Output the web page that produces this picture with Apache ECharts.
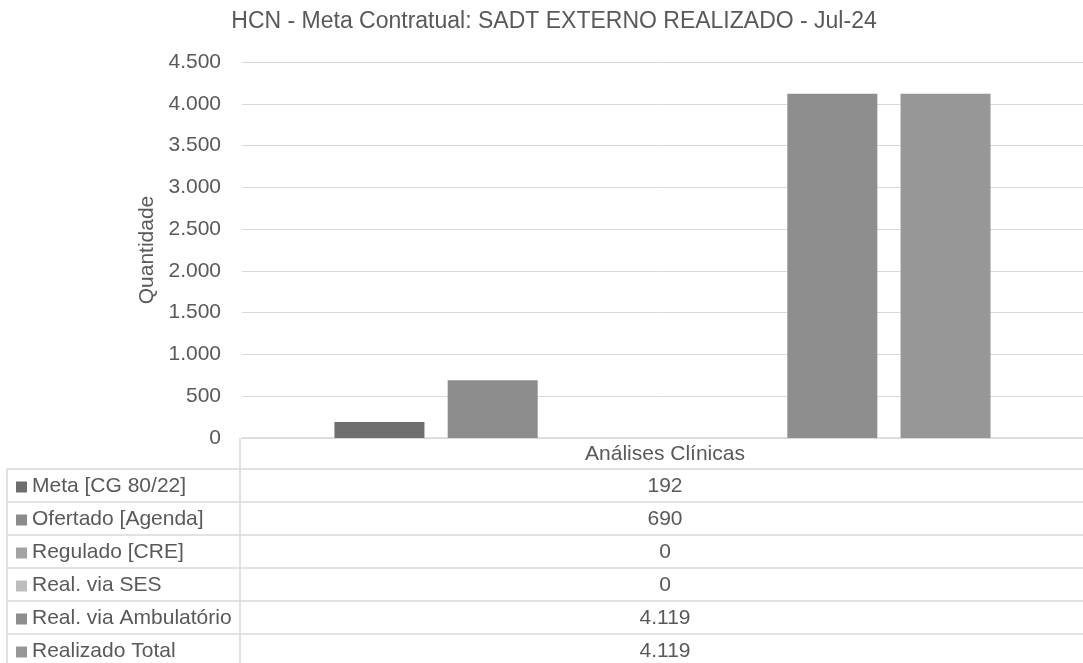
<!DOCTYPE html>
<html>
<head>
<meta charset="utf-8">
<script src="https://cdn.jsdelivr.net/npm/echarts@6/dist/echarts.min.js"></script>
<style>
  html, body { margin: 0; padding: 0; background: #fff; }
  #chart { width: 1083px; height: 663px; }
</style>
</head>
<body>
<div id="chart"></div>
<script>
// data
const categories = ['Análises Clínicas'];
const meta = [192];
const ofertado = [690];
const regulado = [0];
const realSes = [0];
const realAmbulatorio = [4119];
const realizadoTotal = [4119];
const seriesNames = ['Meta [CG 80/22]', 'Ofertado [Agenda]', 'Regulado [CRE]', 'Real. via SES', 'Real. via Ambulatório', 'Realizado Total'];
const seriesData = [meta, ofertado, regulado, realSes, realAmbulatorio, realizadoTotal];
const seriesColors = ['#6e6e6e', '#8c8c8c', '#a3a3a3', '#bdbdbd', '#8e8e8e', '#979797'];

const FONT = "'Liberation Sans', Arial, sans-serif";
const TXT = '#595959';
const LINE = '#d9d9d9';
const FS = 21;

// 4119 -> 4.119
const fmt = v => String(v).replace(/\B(?=(\d{3})+(?!\d))/g, '.');

// table geometry
const tblLeft = 7, colX = 240, tblRight = 1083, valX = 665;
const headTop = 438, rowTop = 469, rowH = 33;

const chart = echarts.init(document.getElementById('chart'));

const graphics = [];
graphics.push({ type: 'line', shape: { x1: colX, y1: headTop, x2: colX, y2: 663 }, style: { stroke: LINE, lineWidth: 1.5 } });
graphics.push({ type: 'line', shape: { x1: tblLeft, y1: rowTop, x2: tblLeft, y2: 663 }, style: { stroke: LINE, lineWidth: 1.5 } });
graphics.push({
  type: 'text', x: valX, y: (headTop + rowTop) / 2 + 1,
  style: { text: categories[0], fill: TXT, font: FS + 'px ' + FONT, textAlign: 'center', textVerticalAlign: 'middle' }
});
seriesNames.forEach((name, i) => {
  const top = rowTop + i * rowH;
  const cy = top + rowH / 2;
  graphics.push({ type: 'line', shape: { x1: tblLeft, y1: top, x2: tblRight, y2: top }, style: { stroke: LINE, lineWidth: 1.5 } });
  graphics.push({ type: 'rect', shape: { x: 16, y: cy - 4, width: 11, height: 11 }, style: { fill: seriesColors[i] } });
  graphics.push({
    type: 'text', x: 32, y: cy + 1,
    style: { text: name, fill: TXT, font: FS + 'px ' + FONT, textAlign: 'left', textVerticalAlign: 'middle' }
  });
  graphics.push({
    type: 'text', x: valX, y: cy + 1,
    style: { text: fmt(seriesData[i][0]), fill: TXT, font: FS + 'px ' + FONT, textAlign: 'center', textVerticalAlign: 'middle' }
  });
});

const option = {
  backgroundColor: '#fff',
  animation: false,
  title: {
    text: 'HCN - Meta Contratual: SADT EXTERNO REALIZADO - Jul-24',
    left: 549,
    textAlign: 'center',
    top: 5,
    textStyle: { color: TXT, fontSize: 23, fontWeight: 'normal', fontFamily: FONT }
  },
  grid: { left: 242, right: -10, top: 62, bottom: 663 - headTop },
  xAxis: {
    type: 'category',
    data: categories,
    axisLine: { lineStyle: { color: LINE, width: 1.5 } },
    axisTick: { show: false },
    axisLabel: { show: false }
  },
  yAxis: {
    type: 'value',
    min: 0,
    max: 4500,
    interval: 500,
    name: 'Quantidade',
    nameLocation: 'middle',
    nameGap: 83,
    nameTextStyle: { color: TXT, fontSize: FS, fontFamily: FONT },
    axisLine: { show: false },
    axisTick: { show: false },
    axisLabel: { color: TXT, fontSize: FS, fontFamily: FONT, margin: 21, formatter: v => fmt(v) },
    splitLine: { lineStyle: { color: LINE, width: 1 } }
  },
  series: seriesNames.map((name, i) => ({
    name: name,
    type: 'bar',
    data: seriesData[i],
    barWidth: 90,
    barGap: '25.8%',
    itemStyle: { color: seriesColors[i] }
  })),
  graphic: graphics
};

chart.setOption(option);
</script>
</body>
</html>
